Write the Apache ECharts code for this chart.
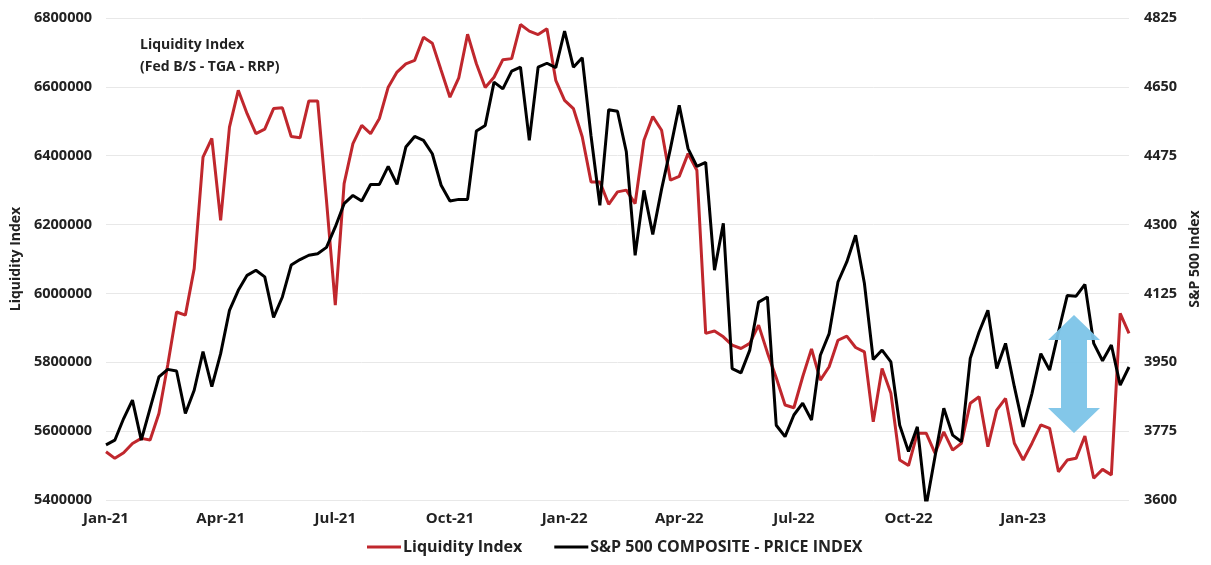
<!DOCTYPE html>
<html>
<head>
<meta charset="utf-8">
<script src="https://cdn.jsdelivr.net/npm/echarts@6/dist/echarts.min.js"></script>
<style>
  html, body { margin: 0; padding: 0; background: #fff; }
  #root { width: 1211px; height: 565px; }
</style>
</head>
<body>
<div id="root"></div>
<script>
// weekly liquidity index (Fed B/S - TGA - RRP)
const liquidity = [
  5540000, 5521000, 5537000, 5564000, 5579000, 5574000, 5651000, 5792000, 5946000, 5937000,
  6072000, 6396000, 6450000, 6212000, 6483000, 6590000, 6522000, 6464000, 6477000, 6537000,
  6539000, 6456000, 6452000, 6559000, 6559000, 6270000, 5966000, 6319000, 6435000, 6488000,
  6464000, 6508000, 6599000, 6643000, 6667000, 6677000, 6744000, 6727000, 6648000, 6570000,
  6626000, 6753000, 6667000, 6598000, 6628000, 6679000, 6682000, 6781000, 6762000, 6752000,
  6769000, 6619000, 6561000, 6537000, 6455000, 6324000, 6324000, 6259000, 6295000, 6300000,
  6261000, 6445000, 6514000, 6474000, 6329000, 6340000, 6406000, 6358000, 5884000, 5891000,
  5874000, 5850000, 5840000, 5855000, 5908000, 5828000, 5755000, 5676000, 5668000, 5758000,
  5839000, 5748000, 5787000, 5864000, 5876000, 5843000, 5830000, 5627000, 5782000, 5710000,
  5516000, 5500000, 5594000, 5594000, 5536000, 5598000, 5545000, 5565000, 5681000, 5700000,
  5555000, 5661000, 5695000, 5565000, 5516000, 5565000, 5618000, 5608000, 5482000, 5516000,
  5521000, 5586000, 5463000, 5489000, 5473000, 5942000, 5884000
];

// weekly S&P 500 composite price index
const spx = [
  3740, 3752, 3807, 3854, 3752, 3833, 3913, 3932, 3928, 3820,
  3879, 3977, 3888, 3972, 4082, 4133, 4171, 4184, 4167, 4064,
  4116, 4197, 4211, 4222, 4226, 4242, 4294, 4353, 4374, 4360,
  4402, 4402, 4448, 4402, 4497, 4524, 4514, 4480, 4400, 4360,
  4364, 4364, 4538, 4552, 4662, 4645, 4690, 4700, 4514, 4700,
  4710, 4699, 4792, 4700, 4724, 4525, 4349, 4592, 4588, 4485,
  4222, 4387, 4275, 4390, 4493, 4603, 4493, 4448, 4458, 4184,
  4303, 3934, 3923, 3981, 4103, 4116, 3790, 3761, 3816, 3846,
  3803, 3968, 4023, 4154, 4205, 4273, 4150, 3957, 3981, 3951,
  3790, 3723, 3786, 3585, 3710, 3833, 3765, 3748, 3960, 4027,
  4082, 3934, 3998, 3888, 3786, 3871, 3972, 3930, 4027, 4120,
  4118, 4148, 3998, 3954, 3994, 3892, 3938
];

// x axis: weekly dates starting 1 Jan 2021
const weeks = [];
for (let i = 0; i < spx.length; i++) {
  weeks.push(new Date(Date.UTC(2021, 0, 1 + 7 * i)).toISOString().slice(0, 10));
}
const tickIndex = [0, 13, 26, 39, 52, 65, 78, 91, 104];
const tickLabels = ['Jan-21', 'Apr-21', 'Jul-21', 'Oct-21', 'Jan-22', 'Apr-22', 'Jul-22', 'Oct-22', 'Jan-23'];
const spxTicks = [3600, 3775, 3950, 4125, 4300, 4475, 4650, 4825];

const font = 'Open Sans';
const ink = '#222';

let myChart = echarts.init(document.getElementById('root'));
let option = {
  animation: false,
  textStyle: { fontFamily: font },
  title: {
    text: 'Liquidity Index\n(Fed B/S - TGA - RRP)',
    left: 135,
    top: 29,
    textStyle: { fontSize: 14, fontWeight: 'bold', color: ink, lineHeight: 22, fontFamily: font }
  },
  legend: {
    left: 362,
    top: 534,
    icon: 'rect',
    itemWidth: 34,
    itemHeight: 3,
    itemGap: 32,
    textStyle: { fontSize: 16, fontWeight: 'bold', color: ink, padding: [0, 0, 0, -3] },
    data: ['Liquidity Index', 'S&P 500 COMPOSITE - PRICE INDEX']
  },
  grid: { left: 106, right: 82, top: 18, bottom: 65 },
  xAxis: {
    type: 'category',
    data: weeks,
    boundaryGap: false,
    axisLine: { show: false },
    axisTick: { show: false },
    axisLabel: {
      interval: function (index) { return tickIndex.indexOf(index) >= 0; },
      formatter: function (value, index) { return tickLabels[tickIndex.indexOf(index)]; },
      fontSize: 15,
      fontWeight: 'bold',
      color: ink,
      margin: 11
    }
  },
  yAxis: [
    {
      type: 'value',
      min: 5400000,
      max: 6800000,
      interval: 200000,
      name: 'Liquidity Index',
      nameLocation: 'middle',
      nameGap: 81,
      nameTextStyle: { fontSize: 14, fontWeight: 'bold', color: ink },
      axisLine: { show: false },
      axisTick: { show: false },
      axisLabel: { formatter: function (v) { return String(v); }, fontSize: 14.5, fontWeight: 'bold', color: ink, margin: 14 },
      splitLine: { lineStyle: { color: '#e8e8e8', width: 1 } }
    },
    {
      type: 'value',
      min: 3600,
      max: 4825,
      name: 'S&P 500 Index',
      nameLocation: 'middle',
      nameGap: 58,
      nameTextStyle: { fontSize: 14, fontWeight: 'bold', color: ink },
      axisLine: { show: false },
      axisTick: { show: false },
      axisLabel: { customValues: spxTicks, formatter: function (v) { return String(v); }, fontSize: 14.5, fontWeight: 'bold', color: ink, margin: 15 },
      splitLine: { show: false }
    }
  ],
  series: [
    {
      name: 'Liquidity Index',
      type: 'line',
      yAxisIndex: 0,
      data: liquidity,
      symbol: 'none',
      color: '#c0272d',
      lineStyle: { color: '#c0272d', width: 3 }
    },
    {
      name: 'S&P 500 COMPOSITE - PRICE INDEX',
      type: 'line',
      yAxisIndex: 1,
      data: spx,
      symbol: 'none',
      color: '#000',
      lineStyle: { color: '#000', width: 3 }
    }
  ],
  graphic: [
    {
      // light blue double arrow annotation
      type: 'polygon',
      z: 100,
      shape: {
        points: [[1074, 315], [1100, 340], [1087, 340], [1087, 408], [1100, 408], [1074, 433],
                 [1048, 408], [1061, 408], [1061, 340], [1048, 340]]
      },
      style: { fill: '#7cc4e8', opacity: 0.95 }
    }
  ]
};
myChart.setOption(option);
</script>
</body>
</html>
